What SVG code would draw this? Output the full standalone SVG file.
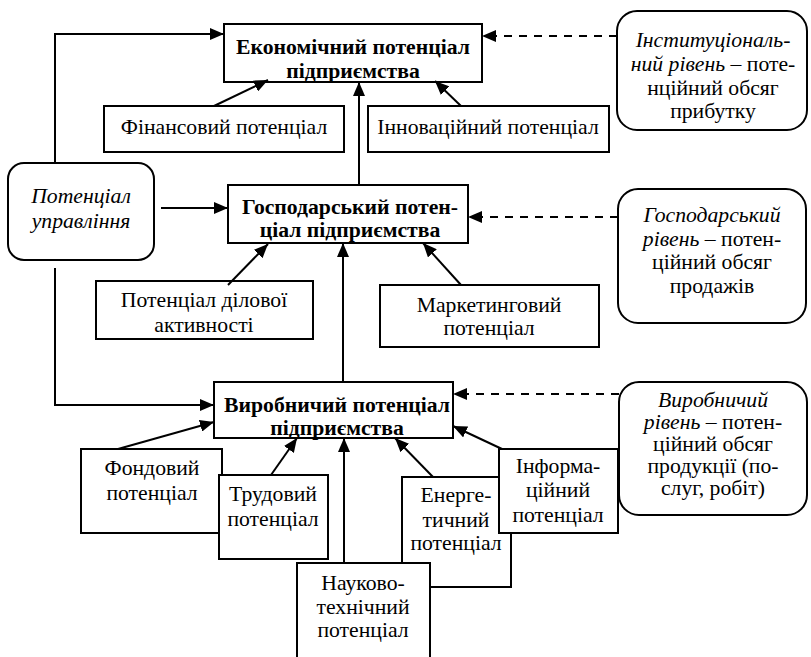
<svg xmlns="http://www.w3.org/2000/svg" width="811" height="657" viewBox="0 0 811 657">
<defs>
<style>
.box{fill:#fff;stroke:#000;stroke-width:2}
.t{font-family:"Liberation Serif","Times New Roman",serif;font-size:21.7px;text-anchor:middle;fill:#000}
.b{font-weight:bold}
.i{font-style:italic}
.c{fill:none;stroke:#000;stroke-width:2}
.d{stroke-dasharray:8 7}
</style>
<marker id="ah" markerUnits="userSpaceOnUse" markerWidth="14" markerHeight="12" refX="14" refY="6" orient="auto">
<path d="M0,0 L14,6 L0,12 z" fill="#000"/>
</marker>
</defs>
<rect width="811" height="657" fill="#fff"/>

<g id="econ">
<rect class="box" x="224" y="24" width="258" height="58"/>
<text class="t b" x="353" y="54">Економічний потенціал</text>
<text class="t b" x="353" y="78">підприємства</text>
</g>
<g id="fin">
<rect class="box" x="104" y="106" width="240" height="46"/>
<text class="t" x="224" y="134">Фінансовий потенціал</text>
</g>
<g id="innov">
<rect class="box" x="368" y="106" width="241" height="46"/>
<text class="t" x="488" y="134">Інноваційний потенціал</text>
</g>
<g id="inst">
<rect class="box" x="617" y="11" width="190" height="119" rx="20"/>
<text class="t" x="713" y="47"><tspan class="i">Інституціональ-</tspan></text>
<text class="t" x="713" y="71"><tspan class="i">ний рівень</tspan> – поте-</text>
<text class="t" x="713" y="95">нційний обсяг</text>
<text class="t" x="713" y="118">прибутку</text>
</g>
<g id="upr">
<rect class="box" x="8" y="163" width="146" height="97" rx="16"/>
<text class="t i" x="81" y="203">Потенціал</text>
<text class="t i" x="81" y="228">управління</text>
</g>
<g id="gosp">
<rect class="box" x="228" y="185" width="240" height="58"/>
<text class="t b" x="350" y="214">Господарський потен-</text>
<text class="t b" x="350" y="237">ціал підприємства</text>
</g>
<g id="dil">
<rect class="box" x="96" y="281" width="217" height="58"/>
<text class="t" x="204" y="307">Потенціал ділової</text>
<text class="t" x="204" y="332">активності</text>
</g>
<g id="mark">
<rect class="box" x="380" y="285" width="219" height="62"/>
<text class="t" x="489" y="312">Маркетинговий</text>
<text class="t" x="489" y="335">потенціал</text>
</g>
<g id="gosp-riv">
<rect class="box" x="618" y="189" width="188" height="134" rx="20"/>
<text class="t i" x="712" y="222">Господарський</text>
<text class="t" x="712" y="246"><tspan class="i">рівень</tspan> – потен-</text>
<text class="t" x="712" y="269">ційний обсяг</text>
<text class="t" x="712" y="293">продажів</text>
</g>
<g id="vyr">
<rect class="box" x="214" y="382" width="239" height="56"/>
<text class="t b" x="337" y="412">Виробничий потенціал</text>
<text class="t b" x="337" y="435">підприємства</text>
</g>
<g id="vyr-riv">
<rect class="box" x="619" y="382" width="188" height="133" rx="20"/>
<text class="t i" x="713" y="407">Виробничий</text>
<text class="t" x="713" y="429"><tspan class="i">рівень</tspan> – потен-</text>
<text class="t" x="713" y="451">ційний обсяг</text>
<text class="t" x="713" y="473">продукції (по-</text>
<text class="t" x="713" y="495">слуг, робіт)</text>
</g>
<g id="fond">
<rect class="box" x="81" y="449" width="141" height="84"/>
<text class="t" x="152" y="475">Фондовий</text>
<text class="t" x="152" y="500">потенціал</text>
</g>
<g id="trud">
<rect class="box" x="219" y="475" width="109" height="84"/>
<text class="t" x="273" y="501">Трудовий</text>
<text class="t" x="273" y="526">потенціал</text>
</g>
<g id="energ">
<rect class="box" x="402" y="477" width="109" height="110"/>
<text class="t" x="456" y="502">Енерге-</text>
<text class="t" x="456" y="527">тичний</text>
<text class="t" x="456" y="550">потенціал</text>
</g>
<g id="inform">
<rect class="box" x="499" y="449" width="119" height="84"/>
<text class="t" x="558" y="473">Інформа-</text>
<text class="t" x="558" y="497">ційний</text>
<text class="t" x="558" y="522">потенціал</text>
</g>
<g id="nauk">
<rect class="box" x="297" y="563" width="133" height="110"/>
<text class="t" x="363" y="590">Науково-</text>
<text class="t" x="363" y="614">технічний</text>
<text class="t" x="363" y="637">потенціал</text>
</g>

<g id="connectors">
<path class="c" d="M55,162 V34 H224" marker-end="url(#ah)"/>
<path class="c" d="M161,208 H228" marker-end="url(#ah)"/>
<path class="c" d="M55,268 V405 H214" marker-end="url(#ah)"/>
<path class="c" d="M214,106 L268,80" marker-end="url(#ah)"/>
<path class="c" d="M461,106 L435,81" marker-end="url(#ah)"/>
<path class="c" d="M359,185 V82" marker-end="url(#ah)"/>
<path class="c d" d="M617,36 H482" marker-end="url(#ah)"/>
<path class="c" d="M228,285 L268,244" marker-end="url(#ah)"/>
<path class="c" d="M461,285 L423,243" marker-end="url(#ah)"/>
<path class="c" d="M343,382 V243" marker-end="url(#ah)"/>
<path class="c d" d="M618,217 H468" marker-end="url(#ah)"/>
<path class="c d" d="M619,394 H453" marker-end="url(#ah)"/>
<path class="c" d="M118,449 L214,422" marker-end="url(#ah)"/>
<path class="c" d="M271,475 L297,438" marker-end="url(#ah)"/>
<path class="c" d="M344,563 V438" marker-end="url(#ah)"/>
<path class="c" d="M433,477 L395,438" marker-end="url(#ah)"/>
<path class="c" d="M502,449 L453,426" marker-end="url(#ah)"/>
</g>
</svg>
